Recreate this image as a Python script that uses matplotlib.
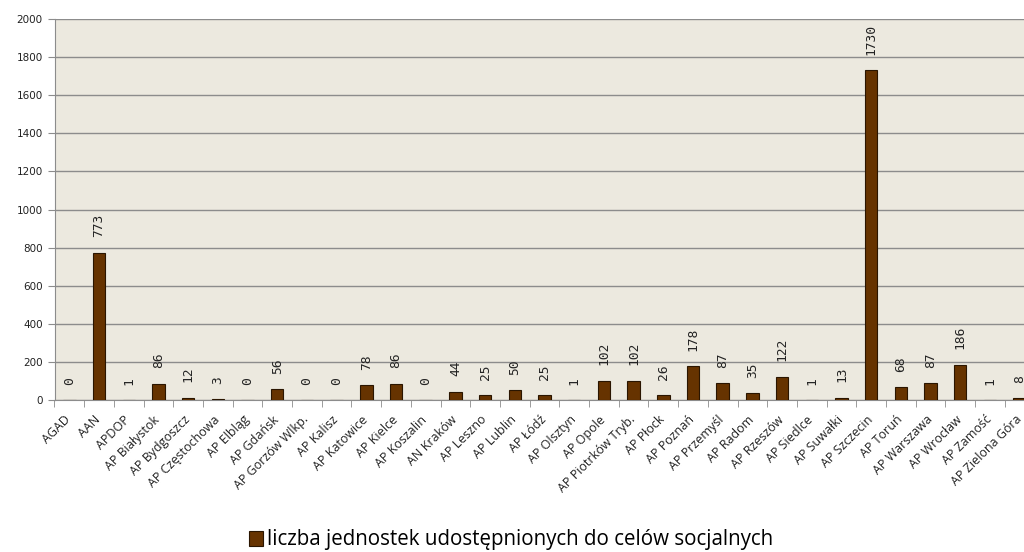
import matplotlib.pyplot as plt
import matplotlib.transforms as mtransforms
import numpy as np

archiwa = [
    "AGAD", "AAN", "APDOP", "AP Białystok", "AP Bydgoszcz", "AP Częstochowa",
    "AP Elbląg", "AP Gdańsk", "AP Gorzów Wlkp.", "AP Kalisz", "AP Katowice",
    "AP Kielce", "AP Koszalin", "AN Kraków", "AP Leszno", "AP Lublin", "AP Łódź",
    "AP Olsztyn", "AP Opole", "AP Piotrków Tryb.", "AP Płock", "AP Poznań",
    "AP Przemyśl", "AP Radom", "AP Rzeszów", "AP Siedlce", "AP Suwałki",
    "AP Szczecin", "AP Toruń", "AP Warszawa", "AP Wrocław", "AP Zamość",
    "AP Zielona Góra",
]
liczba = [
    0, 773, 1, 86, 12, 3, 0, 56, 0, 0, 78, 86, 0, 44, 25, 50, 25, 1, 102, 102,
    26, 178, 87, 35, 122, 1, 13, 1730, 68, 87, 186, 1, 8,
]
yticks = [0, 200, 400, 600, 800, 1000, 1200, 1400, 1600, 1800, 2000]
legenda = "liczba jednostek udostępnionych do celów socjalnych"

BAR = "#663300"
TLO = "#ECE9DF"
SZARY = "#8C8C8C"

fig = plt.figure(figsize=(10.24, 5.52), dpi=100)
# axes runs past the right edge, as in the original (cropped) picture
ax = fig.add_axes([54.5 / 1024, 152 / 552, 980 / 1024, 381 / 552])
ax.set_facecolor(TLO)

x = np.arange(len(archiwa))
bars = ax.bar(x, liczba, width=0.42, color=BAR, edgecolor="#2a1500",
              linewidth=0.8, zorder=3, label=legenda)

for xi, v in zip(x, liczba):
    ax.annotate(str(v), (xi, v), xytext=(0, 11), textcoords="offset points",
                ha="center", va="bottom", rotation=90, fontsize=9.3,
                family="DejaVu Sans Mono", color="#222222")

ax.set_xlim(-0.5, len(archiwa) - 0.5)
ax.set_ylim(0, 2000)
ax.set_yticks(yticks)
ax.yaxis.grid(True, color=SZARY, linewidth=1.0, zorder=0)

# labels on major ticks (no mark), category borders as minor ticks
ax.set_xticks(x)
ax.set_xticklabels(archiwa, rotation=45, ha="right", rotation_mode="anchor",
                   fontsize=9, family="Open Sans", color="#222222")
ax.set_xticks(np.arange(len(archiwa) + 1) - 0.5, minor=True)
ax.tick_params(axis="x", which="major", length=0, pad=3)
ax.tick_params(axis="x", which="minor", length=5, color=SZARY)
ax.tick_params(axis="y", length=5, color=SZARY, labelsize=7.5,
               labelcolor="#222222")

przes = mtransforms.ScaledTranslation(-5 / 100, -9 / 100, fig.dpi_scale_trans)
for lab in ax.get_xticklabels():
    lab.set_transform(lab.get_transform() + przes)

for s in ["top", "right"]:
    ax.spines[s].set_visible(False)
for s in ["left", "bottom"]:
    ax.spines[s].set_color(SZARY)

fig.legend(handles=[bars], labels=[legenda], loc="center",
           bbox_to_anchor=(511 / 1024, 1 - 540 / 552), frameon=False,
           prop={"family": "Open Sans", "size": 14.8}, handlelength=0.7,
           handleheight=0.7, handletextpad=0.2)

fig.savefig("out.png", dpi=100, facecolor="white")
